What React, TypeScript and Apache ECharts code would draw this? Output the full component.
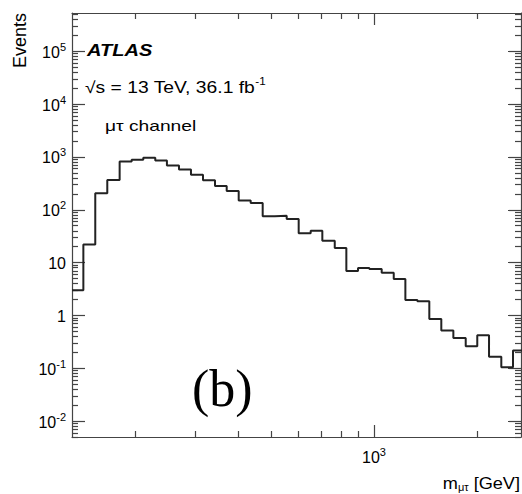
import React, { useEffect, useRef } from 'react';
import * as echarts from 'echarts';

// m_mu_tau bin edges [GeV] (log-spaced bins)
const binEdges = [130.9, 141.3, 153.1, 166.0, 180.4, 195.6, 211.5, 229.3, 248.0, 269.0,
  291.6, 316.2, 342.8, 370.9, 402.1, 435.9, 472.6, 512.5, 555.5, 602.2,
  652.9, 706.1, 767.7, 830.0, 897.9, 968.9, 1053, 1142, 1235, 1339,
  1451, 1573, 1706, 1854, 2004, 2169, 2356, 2549, 2764];
// Events per bin
const events = [3.0, 22, 206, 365, 820, 880, 960, 855, 690, 580,
  460, 360, 282, 227, 150, 135, 75, 77, 67, 36,
  40, 26, 18.8, 6.95, 7.9, 7.6, 6.4, 4.9, 1.96, 1.85,
  0.86, 0.52, 0.375, 0.26, 0.42, 0.165, 0.105, 0.217];

const xRange = [130.9, 2690];
const yRange = [0.005, 5.3e5];
const xMajorTicks = [1000];
const xMinorTicks = [200, 300, 400, 500, 600, 700, 800, 900, 2000];
const yMajorTicks = [0.01, 0.1, 1, 10, 100, 1000, 10000, 100000];

const FONT = '"Liberation Sans", Arial, Helvetica, sans-serif';
const AXIS_COLOR = '#444';

function yMinorTicks(): number[] {
  const out: number[] = [];
  for (let d = -3; d <= 5; d++) {
    for (let m = 2; m <= 9; m++) {
      const v = m * Math.pow(10, d);
      if (v >= yRange[0] && v <= yRange[1]) out.push(v);
    }
  }
  return out;
}

const powLabel = (v: number) => {
  const e = Math.round(Math.log10(v));
  if (e === 0) return '{b|1}';
  if (e === 1) return '{b|10}';
  return `{b|10}{s|${e}}`;
};

const richLabel = {
  b: { fontSize: 16, fontFamily: FONT, color: '#000', verticalAlign: 'bottom', lineHeight: 18 },
  s: { fontSize: 11, fontFamily: FONT, color: '#000', verticalAlign: 'bottom', lineHeight: 11, padding: [0, 0, 8, 0] },
};

export default function App() {
  const ref = useRef<HTMLDivElement>(null);
  useEffect(() => {
    if (!ref.current) return;
    const chart = echarts.init(ref.current, undefined, { renderer: 'svg' });
    const pts: number[][] = [];
    events.forEach((v, i) => {
      pts.push([binEdges[i], v]);
      pts.push([binEdges[i + 1], v]);
    });
    const axisLine = { show: true, lineStyle: { color: AXIS_COLOR, width: 1.2 } };
    const mkX = (pos: string, major: boolean, labels: boolean) => ({
      type: 'log', logBase: 10, min: xRange[0], max: xRange[1], position: pos,
      axisLine: major ? axisLine : { show: false },
      axisTick: { show: true, inside: true, length: major ? 12 : 6, customValues: major ? xMajorTicks : xMinorTicks, lineStyle: { color: AXIS_COLOR, width: 1.2 } },
      axisLabel: labels ? { show: true, customValues: xMajorTicks, formatter: powLabel, rich: richLabel, margin: 10 } : { show: false },
      splitLine: { show: false }, minorTick: { show: false },
    });
    const mkY = (pos: string, major: boolean, labels: boolean) => ({
      type: 'log', logBase: 10, min: yRange[0], max: yRange[1], position: pos,
      axisLine: major ? axisLine : { show: false },
      axisTick: { show: true, inside: true, length: major ? 13 : 6, customValues: major ? yMajorTicks : yMinorTicks(), lineStyle: { color: AXIS_COLOR, width: 1.2 } },
      axisLabel: labels ? { show: true, customValues: yMajorTicks, formatter: powLabel, rich: richLabel, margin: 6 } : { show: false },
      splitLine: { show: false }, minorTick: { show: false },
    });
    chart.setOption({
      animation: false,
      backgroundColor: '#fff',
      grid: { left: 72, right: 1, top: 13, bottom: 57, containLabel: false },
      xAxis: [mkX('bottom', true, true), mkX('bottom', false, false), mkX('top', true, false), mkX('top', false, false)],
      yAxis: [mkY('left', true, true), mkY('left', false, false), mkY('right', true, false), mkY('right', false, false)],
      series: [{
        type: 'line', xAxisIndex: 0, yAxisIndex: 0, data: pts, symbol: 'none', clip: true,
        lineStyle: { color: '#222', width: 2 },
      }],
      graphic: [
        { type: 'text', x: 29, y: 13, rotation: Math.PI / 2,
          style: { text: 'Events', font: `18px ${FONT}`, fill: '#000', align: 'right', verticalAlign: 'bottom' } },
        { type: 'text', x: 87, y: 58.6, scaleX: 1.18,
          style: { text: 'ATLAS', font: `italic bold 17px ${FONT}`, fill: '#000', align: 'left', verticalAlign: 'bottom' } },
        { type: 'text', x: 85, y: 95.5, scaleX: 1.17,
          style: { text: '√s = 13 TeV, 36.1 fb{s|-1}', font: `16.5px ${FONT}`, fill: '#000', align: 'left', verticalAlign: 'bottom',
            rich: { s: { fontSize: 10, fontFamily: FONT, fill: '#000', verticalAlign: 'bottom', lineHeight: 10, padding: [0, 0, 9, 0] } } } },
        { type: 'text', x: 105, y: 133, scaleX: 1.28,
          style: { text: 'μτ channel', font: `15px ${FONT}`, fill: '#000', align: 'left', verticalAlign: 'bottom' } },
        { type: 'text', x: 192, y: 414,
          style: { text: '(b)', font: `52px "Liberation Serif", "Times New Roman", serif`, fill: '#000', align: 'left', verticalAlign: 'bottom' } },
        { type: 'text', x: 520, y: 492, scaleX: 1.1,
          style: { text: '{a|m}{s|μτ}{a| [GeV]}', align: 'right', verticalAlign: 'bottom',
            rich: {
              a: { fontSize: 16.5, fontFamily: FONT, fill: '#000', verticalAlign: 'bottom', lineHeight: 20 },
              s: { fontSize: 10, fontFamily: FONT, fill: '#000', verticalAlign: 'bottom', lineHeight: 14 },
            } } },
      ],
    });
    return () => chart.dispose();
  }, []);
  return <div ref={ref} style={{ position: 'fixed', left: 0, top: 0, width: 522, height: 494, background: '#fff' }} />;
}
